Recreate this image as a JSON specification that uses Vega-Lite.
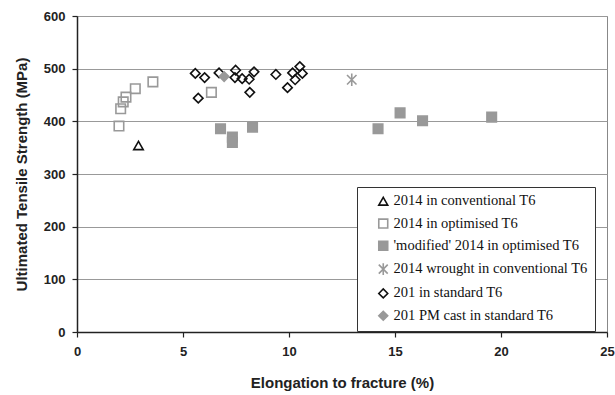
{
  "$schema": "https://vega.github.io/schema/vega-lite/v6.json",
  "width": 530,
  "height": 316,
  "autosize": {"type": "none"},
  "padding": {"left": 77, "top": 16, "right": 8, "bottom": 63},
  "background": "white",
  "config": {
    "view": {"stroke": "#888", "strokeWidth": 1},
    "font": "Liberation Sans"
  },
  "data": {
    "values": [
      {"series": "2014 in conventional T6", "elong": 2.9, "uts": 354},
      {"series": "2014 in optimised T6", "elong": 1.98, "uts": 391},
      {"series": "2014 in optimised T6", "elong": 2.06, "uts": 424},
      {"series": "2014 in optimised T6", "elong": 2.18, "uts": 437},
      {"series": "2014 in optimised T6", "elong": 2.31, "uts": 446},
      {"series": "2014 in optimised T6", "elong": 2.75, "uts": 462},
      {"series": "2014 in optimised T6", "elong": 3.58, "uts": 475},
      {"series": "2014 in optimised T6", "elong": 6.34, "uts": 455},
      {"series": "'modified' 2014 in optimised T6", "elong": 6.77, "uts": 386},
      {"series": "'modified' 2014 in optimised T6", "elong": 7.33, "uts": 370},
      {"series": "'modified' 2014 in optimised T6", "elong": 7.33, "uts": 360},
      {"series": "'modified' 2014 in optimised T6", "elong": 8.28, "uts": 389},
      {"series": "'modified' 2014 in optimised T6", "elong": 14.2, "uts": 386},
      {"series": "'modified' 2014 in optimised T6", "elong": 15.24, "uts": 416},
      {"series": "'modified' 2014 in optimised T6", "elong": 16.3, "uts": 401},
      {"series": "'modified' 2014 in optimised T6", "elong": 19.56, "uts": 408},
      {"series": "2014 wrought in conventional T6", "elong": 12.96, "uts": 479},
      {"series": "201 in standard T6", "elong": 5.58, "uts": 491},
      {"series": "201 in standard T6", "elong": 6.02, "uts": 483},
      {"series": "201 in standard T6", "elong": 5.72, "uts": 444},
      {"series": "201 in standard T6", "elong": 6.7, "uts": 492},
      {"series": "201 in standard T6", "elong": 7.48, "uts": 497},
      {"series": "201 in standard T6", "elong": 7.45, "uts": 483},
      {"series": "201 in standard T6", "elong": 7.79, "uts": 481},
      {"series": "201 in standard T6", "elong": 8.12, "uts": 480},
      {"series": "201 in standard T6", "elong": 8.35, "uts": 494},
      {"series": "201 in standard T6", "elong": 8.15, "uts": 455},
      {"series": "201 in standard T6", "elong": 9.38, "uts": 489},
      {"series": "201 in standard T6", "elong": 9.93, "uts": 464},
      {"series": "201 in standard T6", "elong": 10.17, "uts": 492},
      {"series": "201 in standard T6", "elong": 10.29, "uts": 479},
      {"series": "201 in standard T6", "elong": 10.51, "uts": 504},
      {"series": "201 in standard T6", "elong": 10.63, "uts": 491},
      {"series": "201 PM cast in standard T6", "elong": 6.94, "uts": 485}
    ]
  },
  "mark": {"type": "point", "size": 90, "strokeWidth": 1.6, "opacity": 1},
  "encoding": {
    "x": {
      "field": "elong", "type": "quantitative",
      "scale": {"domain": [0, 25], "nice": false},
      "axis": {
        "title": "Elongation to fracture (%)",
        "values": [0, 5, 10, 15, 20, 25],
        "grid": false,
        "domainColor": "#222", "domainWidth": 1.5,
        "tickColor": "#222", "tickSize": 5, "tickWidth": 1.2,
        "labelFont": "Liberation Sans", "labelFontSize": 13, "labelFontWeight": "bold", "labelColor": "#222",
        "labelPadding": 8, "labelFlush": false,
        "titleFont": "Liberation Sans", "titleFontSize": 15, "titleFontWeight": "bold", "titleColor": "#222",
        "titlePadding": 17
      }
    },
    "y": {
      "field": "uts", "type": "quantitative",
      "scale": {"domain": [0, 600], "nice": false},
      "axis": {
        "title": "Ultimated Tensile Strength (MPa)",
        "values": [0, 100, 200, 300, 400, 500, 600],
        "grid": true, "gridColor": "#999", "gridWidth": 1,
        "domainColor": "#222", "domainWidth": 1.5,
        "tickColor": "#222", "tickSize": 5, "tickWidth": 1.2,
        "labelFont": "Liberation Sans", "labelFontSize": 13, "labelFontWeight": "bold", "labelColor": "#222",
        "labelPadding": 7,
        "titleFont": "Liberation Sans", "titleFontSize": 15, "titleFontWeight": "bold", "titleColor": "#222",
        "titlePadding": 14
      }
    },
    "shape": {
      "field": "series", "type": "nominal",
      "scale": {
        "domain": ["2014 in conventional T6", "2014 in optimised T6", "'modified' 2014 in optimised T6", "2014 wrought in conventional T6", "201 in standard T6", "201 PM cast in standard T6"],
        "range": ["triangle-up", "square", "square", "M-1,-1L1,1M-1,1L1,-1M0,-1.3L0,1.3", "diamond", "diamond"]
      },
      "legend": {
        "title": null,
        "orient": "none", "legendX": 280, "legendY": 171,
        "strokeColor": "#333", "fillColor": "white",
        "padding": 7, "symbolOffset": 12,
        "labelFont": "Liberation Serif", "labelFontSize": 14.5, "labelColor": "#111", "labelLimit": 400,
        "rowPadding": 6.3, "symbolSize": 80, "symbolStrokeWidth": 1.6, "labelOffset": 3
      }
    },
    "stroke": {
      "field": "series", "type": "nominal",
      "scale": {
        "domain": ["2014 in conventional T6", "2014 in optimised T6", "'modified' 2014 in optimised T6", "2014 wrought in conventional T6", "201 in standard T6", "201 PM cast in standard T6"],
        "range": ["#111", "#999", "#999", "#999", "#111", "#999"]
      },
      "legend": null
    },
    "fill": {
      "field": "series", "type": "nominal",
      "scale": {
        "domain": ["2014 in conventional T6", "2014 in optimised T6", "'modified' 2014 in optimised T6", "2014 wrought in conventional T6", "201 in standard T6", "201 PM cast in standard T6"],
        "range": ["transparent", "transparent", "#999", "transparent", "transparent", "#999"]
      },
      "legend": null
    }
  }
}
